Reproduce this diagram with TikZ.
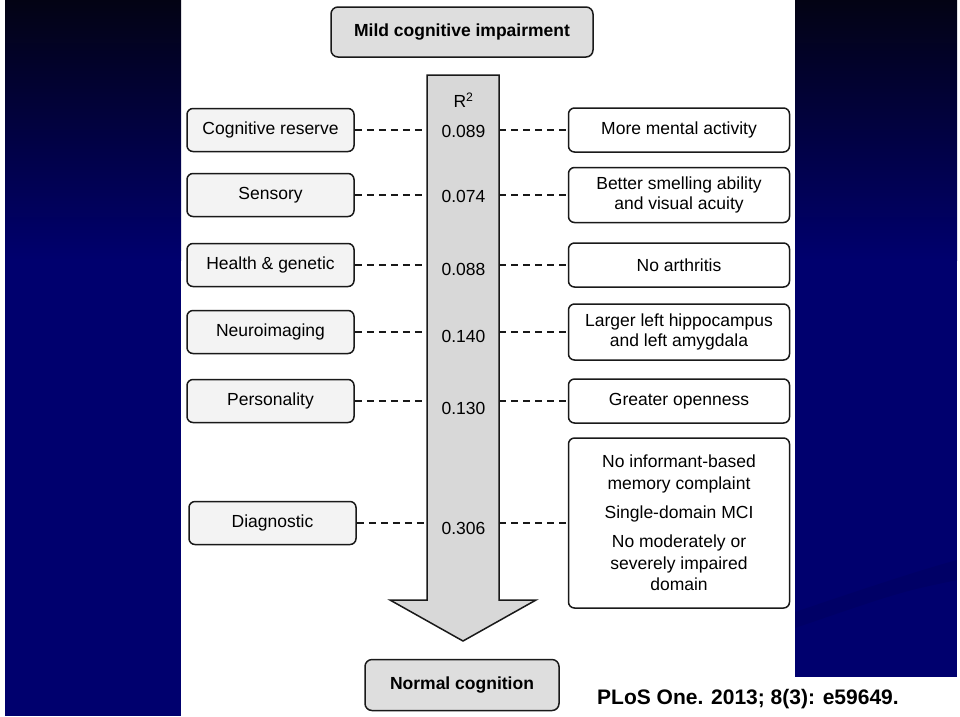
\documentclass[tikz,border=0pt]{standalone}
\usepackage{fontspec}
\setmainfont{Liberation Sans}
\usepackage{tikz}
\usetikzlibrary{
  positioning
}
\definecolor{mciNavy}{RGB}{0,0,110}
\definecolor{mciNight}{RGB}{3,3,20}
\definecolor{mciGray}{RGB}{222,222,222}
\definecolor{mciPale}{RGB}{243,243,243}
\definecolor{mciArrow}{RGB}{216,216,216}
\definecolor{mciLine}{RGB}{25,25,25}
\tikzset{
  mciEnd/.style={
    rectangle,
    rounded corners=7pt,
    draw=mciLine,
    fill=mciGray,
    line width=1.5pt,
    inner sep=0pt,
    font=\bfseries\fontsize{17.5}{20}\selectfont
  },
  mciFactor/.style={
    rectangle,
    rounded corners=6pt,
    draw=mciLine,
    fill=mciPale,
    line width=1.5pt,
    inner sep=0pt,
    minimum width=167pt,
    minimum height=43pt,
    font=\fontsize{17.5}{19.5}\selectfont
  },
  mciFinding/.style={
    rectangle,
    rounded corners=6pt,
    draw=mciLine,
    fill=white,
    line width=1.5pt,
    inner sep=0pt,
    minimum width=221pt,
    minimum height=44pt,
    align=center,
    font=\fontsize{17.5}{19.5}\selectfont
  },
  mciValue/.style={
    inner sep=0pt,
    font=\fontsize{17.5}{20}\selectfont
  },
  mciDash/.style={
    draw=mciLine,
    line width=1.1pt,
    dash pattern=on 7pt off 5pt
  }
}

\begin{document}
\begin{tikzpicture}[x=1pt, y=-1pt]
  \useasboundingbox (0,0) rectangle (960,716);
  % slide background
  \fill[white] (0,0) rectangle (960,716);
  \shade[top color=mciNight, bottom color=mciNavy] (5,0) rectangle (181,260);
  \fill[mciNavy] (5,259) rectangle (181,716);
  \shade[top color=mciNight, bottom color=mciNavy] (795,0) rectangle (957,260);
  \fill[mciNavy] (795,259) rectangle (957,677);
  \fill[black, opacity=0.07] (795,612) .. controls (860,590) and (920,570) .. (957,560)
    -- (957,580) .. controls (900,592) .. (795,628) -- cycle;

  % big arrow
  \draw[line width=1.5pt, draw=mciLine, fill=mciArrow, line join=miter]
    (427,75) -- (499,75) -- (499,600) -- (536,600) -- (463,641)
    -- (390,600) -- (427,600) -- cycle;
  \coordinate (shaftL) at (427,0);
  \coordinate (shaftR) at (499,0);

  \node[mciEnd, minimum width=262pt, minimum height=50pt] (mci) at (462,32)
    {Mild cognitive impairment};
  \node[mciEnd, minimum width=194pt, minimum height=51pt] (normal) at (462,685)
    {Normal cognition};

  % factors
  \node[mciFactor] (reserve) at (270.5,130) {Cognitive reserve};
  \node[mciFactor] (sensory) at (270.5,195) {Sensory};
  \node[mciFactor] (health) at (270.5,265) {Health \& genetic};
  \node[mciFactor] (imaging) at (270.5,332) {Neuroimaging};
  \node[mciFactor] (persona) at (270.5,401) {Personality};
  \node[mciFactor] (diagnos) at (272.5,523) {Diagnostic};

  % findings
  \node[mciFinding, right=213pt of reserve] (mental) {More mental activity};
  \node[mciFinding, right=213pt of sensory, minimum height=55pt]
    (smell) {Better smelling ability\\and visual acuity};
  \node[mciFinding, right=213pt of health] (arthr) {No arthritis};
  \node[mciFinding, right=213pt of imaging, minimum height=56pt]
    (hippo) {Larger left hippocampus\\and left amygdala};
  \node[mciFinding, right=213pt of persona] (open) {Greater openness};
  \node[mciFinding, right=211pt of diagnos, minimum height=170pt,
    font=\fontsize{17.5}{21.5}\selectfont]
    (single) {No informant-based\\memory complaint\\[7.75pt]
      Single-domain MCI\\[7.75pt]
      No moderately or\\severely impaired\\domain};

  % R2 values
  \node[mciValue] (rsq) at (463.5,100) {R\textsuperscript{2}};
  \node[mciValue] (vReserve) at (463.5,131) {0.089};
  \node[mciValue] (vSensory) at (463.5,196) {0.074};
  \node[mciValue] (vHealth) at (463.5,269) {0.088};
  \node[mciValue] (vImaging) at (463.5,336) {0.140};
  \node[mciValue] (vPersona) at (463.5,408) {0.130};
  \node[mciValue] (vDiagnos) at (463.5,528) {0.306};

  \foreach \f/\g in {reserve/mental, sensory/smell, health/arthr,
      imaging/hippo, persona/open, diagnos/single} {
    \draw[mciDash] (\f.east) -- (\f.east -| shaftL);
    \draw[mciDash] (\f.east -| shaftR) -- (\f.east -| \g.west);
  }

  \node[anchor=base west, inner sep=0pt,
    font=\bfseries\fontsize{21}{24}\selectfont] (cite) at (597,704)
    {PLoS One. 2013; 8(3): e59649.};
\end{tikzpicture}
\end{document}
